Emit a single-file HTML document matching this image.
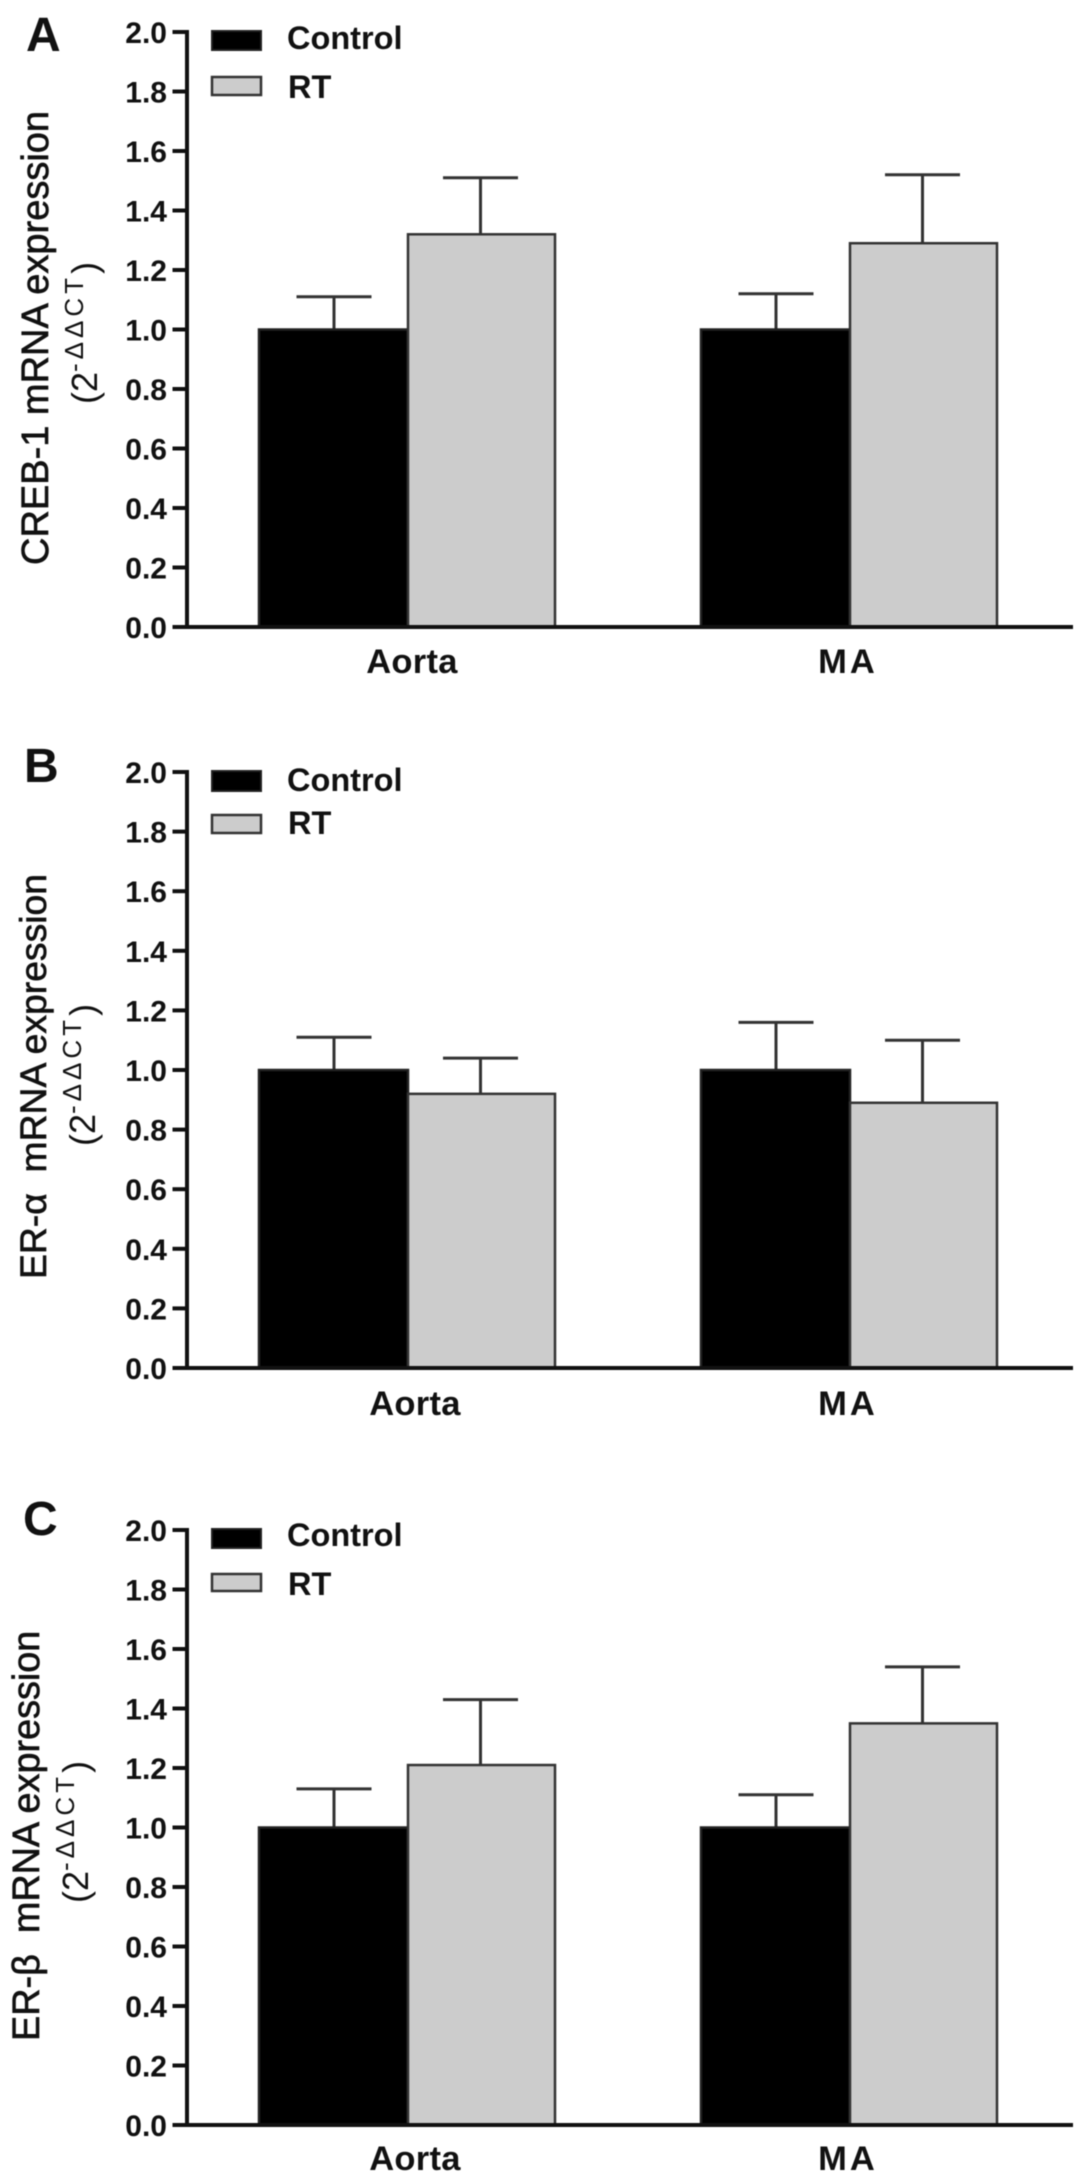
<!DOCTYPE html>
<html lang="en">
<head>
<meta charset="utf-8">
<title>CREB-1, ER-α and ER-β mRNA expression</title>
<style>
  html,body{margin:0;padding:0;background:#fff;}
  svg{display:block;filter:blur(0.55px);}
  text{font-family:"Liberation Sans",Arial,sans-serif;fill:#111;}
  .panel-letter{font-size:48px;font-weight:700;}
  .legend-text{font-size:32.5px;font-weight:700;}
  .y-title{font-weight:400;stroke:#111;stroke-width:.65px;}
  .y-sub{font-size:36px;font-weight:400;}
  .sup{font-size:26px;letter-spacing:4px;}
  .tick{font-size:30px;font-weight:700;}
  .cat{font-size:34.5px;font-weight:700;}
</style>
</head>
<body>
<svg id="fig" xmlns="http://www.w3.org/2000/svg" width="1087" height="2184" viewBox="0 0 1087 2184">
  <rect x="0" y="0" width="1087" height="2184" fill="#fff"/>

  <g id="panel-a">
    <text class="panel-letter" x="26" y="51">A</text>
    <text class="y-title" style="font-size:38px" transform="translate(48,565) rotate(-90)">CREB-1 mRNA expression</text>
    <text class="y-sub" transform="translate(97,404) rotate(-90)">(2<tspan class="sup" dy="-14">-ΔΔCT</tspan><tspan dy="14">)</tspan></text>
    <rect x="212" y="31" width="49" height="19" fill="#000" stroke="#222" stroke-width="2"/>
    <text class="legend-text" x="287" y="49">Control</text>
    <rect x="212" y="77" width="49" height="18" fill="#ccc" stroke="#333" stroke-width="2.5"/>
    <text class="legend-text" x="288" y="98">RT</text>
  </g>

  <g id="panel-b">
    <text class="panel-letter" x="24" y="782">B</text>
    <text class="y-title" style="font-size:37.3px" transform="translate(46,1279) rotate(-90)" xml:space="preserve">ER-α  mRNA expression</text>
    <text class="y-sub" transform="translate(95,1146) rotate(-90)">(2<tspan class="sup" dy="-14">-ΔΔCT</tspan><tspan dy="14">)</tspan></text>
    <rect x="212" y="771" width="49" height="20" fill="#000" stroke="#222" stroke-width="2"/>
    <text class="legend-text" x="287" y="791">Control</text>
    <rect x="212" y="815" width="49" height="18" fill="#ccc" stroke="#333" stroke-width="2.5"/>
    <text class="legend-text" x="288" y="834">RT</text>
  </g>

  <g id="panel-c">
    <text class="panel-letter" x="23" y="1535">C</text>
    <text class="y-title" style="font-size:37.8px" transform="translate(39,2041) rotate(-90)" xml:space="preserve">ER-β  mRNA expression</text>
    <text class="y-sub" transform="translate(88,1903) rotate(-90)">(2<tspan class="sup" dy="-14">-ΔΔCT</tspan><tspan dy="14">)</tspan></text>
    <rect x="212" y="1529" width="49" height="19" fill="#000" stroke="#222" stroke-width="2"/>
    <text class="legend-text" x="287" y="1546">Control</text>
    <rect x="212" y="1574" width="49" height="17" fill="#ccc" stroke="#333" stroke-width="2.5"/>
    <text class="legend-text" x="288" y="1595">RT</text>
  </g>
</svg>

<script>
// ---- chart data ----
var categories = ['Aorta', 'MA'];
var tickLabels = ['0.0', '0.2', '0.4', '0.6', '0.8', '1.0', '1.2', '1.4', '1.6', '1.8', '2.0'];

var crebControl = [1.00, 1.00];
var crebControlErr = [1.11, 1.12];
var crebRT = [1.32, 1.29];
var crebRTErr = [1.51, 1.52];

var erAlphaControl = [1.00, 1.00];
var erAlphaControlErr = [1.11, 1.16];
var erAlphaRT = [0.92, 0.89];
var erAlphaRTErr = [1.04, 1.10];

var erBetaControl = [1.00, 1.00];
var erBetaControlErr = [1.13, 1.11];
var erBetaRT = [1.21, 1.35];
var erBetaRTErr = [1.43, 1.54];

// ---- drawing ----
var NS = 'http://www.w3.org/2000/svg';
var AXIS_MAX = 2;

function make(tag, parent, attrs) {
  var el = document.createElementNS(NS, tag);
  for (var k in attrs) { el.setAttribute(k, attrs[k]); }
  parent.appendChild(el);
  return el;
}

function xBar(catIndex, seriesIndex) {
  return 259 + catIndex * 442 + seriesIndex * 149;
}

function drawBars(g, yScale, y0, values, errs, seriesIndex, key) {
  var fill = seriesIndex === 0 ? '#000' : '#ccc';
  var stroke = seriesIndex === 0 ? '#222' : '#333';
  var barW = seriesIndex === 0 ? 149 : 147;
  values.forEach(function (v, i) {
    var left = xBar(i, seriesIndex);
    var mid = left + (seriesIndex === 0 ? 75 : 72.5);
    var stem = make('line', g, { x1: mid, x2: mid, y1: yScale(errs[i]), y2: yScale(v), stroke: '#333', 'stroke-width': 3 });
    
    
    var cap = make('line', g, { x1: mid - 37.5, x2: mid + 37.5, y1: yScale(errs[i]), y2: yScale(errs[i]), stroke: '#333', 'stroke-width': 3 });
    
    
    var bar = make('rect', g, { x: left, y: yScale(v), width: barW, height: y0 - yScale(v), fill: fill, stroke: stroke, 'stroke-width': 2.5 });
    
    
  });
}

function drawAxes(g, yScale, y0, catLabelY, aortaShift) {
  tickLabels.forEach(function (label) {
    var y = yScale(parseFloat(label));
    var t = make('line', g, { x1: 172.5, x2: 187, y1: y, y2: y, stroke: '#111', 'stroke-width': 4 });
    
    
    var txt = make('text', g, { x: 167, y: y + 11, 'text-anchor': 'end', 'class': 'tick' });
    txt.textContent = label;
    
    
  });
  var yAxis = make('line', g, { x1: 187, x2: 187, y1: yScale(AXIS_MAX) - 2, y2: y0 + 2, stroke: '#111', 'stroke-width': 4 });
  
  
  var xAxis = make('line', g, { x1: 172.5, x2: 1073, y1: y0, y2: y0, stroke: '#111', 'stroke-width': 4 });
  
  
  categories.forEach(function (c, i) {
    var cx = xBar(i, 1) + (i === 0 ? aortaShift : -2);
    var t = make('text', g, { x: cx, y: catLabelY, 'text-anchor': 'middle', 'class': 'cat' });
    t.textContent = c;
    t.setAttribute('letter-spacing', i === 0 ? '0.3' : '3');
    
    
  });
}

function drawPanel(id, yTop, yZero, catLabelY, aortaShift, control, controlErr, rt, rtErr) {
  var g = document.getElementById(id);
  var yScale = function (v) { return yZero - (v / AXIS_MAX) * (yZero - yTop); };
  drawBars(g, yScale, yZero, control, controlErr, 0, 'control');
  drawBars(g, yScale, yZero, rt, rtErr, 1, 'rt');
  drawAxes(g, yScale, yZero, catLabelY, aortaShift);
}

drawPanel('panel-a', 32, 627, 673, 4, crebControl, crebControlErr, crebRT, crebRTErr);
drawPanel('panel-b', 772, 1368, 1415, 7, erAlphaControl, erAlphaControlErr, erAlphaRT, erAlphaRTErr);
drawPanel('panel-c', 1530, 2125, 2170, 7, erBetaControl, erBetaControlErr, erBetaRT, erBetaRTErr);
</script>
</body>
</html>
